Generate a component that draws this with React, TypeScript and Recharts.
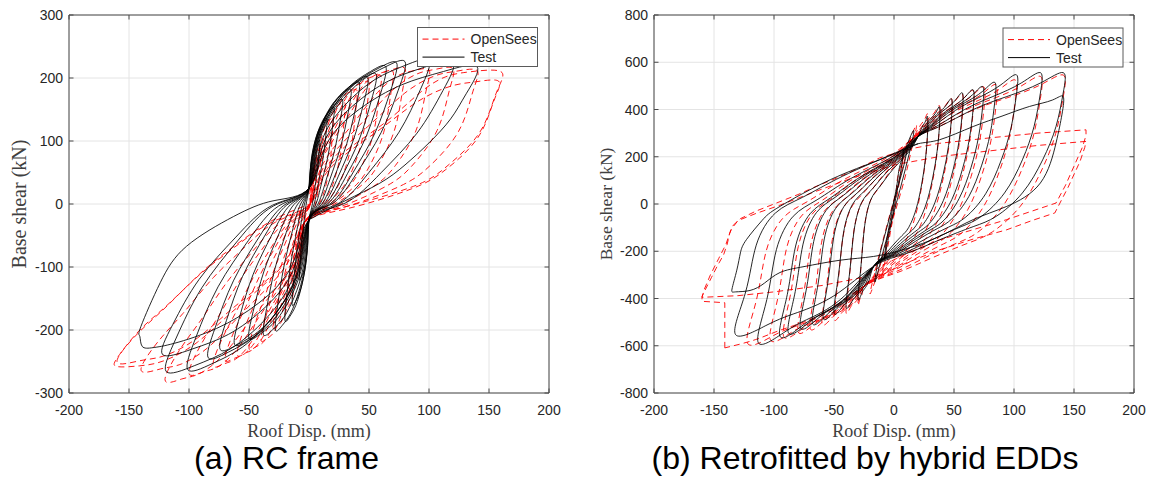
import React from 'react';
import { LineChart, Line, XAxis, YAxis, CartesianGrid } from 'recharts';

type Pt = [number, number];

// ---------- axis ticks ----------
const dispTicks = [-200, -150, -100, -50, 0, 50, 100, 150, 200];
const rcShearTicks = [-300, -200, -100, 0, 100, 200, 300];
const hyShearTicks = [-800, -600, -400, -200, 0, 200, 400, 600, 800];

// ---------- (a) RC frame : Test (black) loops [disp mm, shear kN] ----------
const rcTestLoops: Pt[][] = [
  [[0,25],[0.9,51],[2.7,74],[5,89],[7.2,97],[9,100],[8.4,80],[6.8,50],[4.5,22],[2.3,-5],[0,-25],[-0.8,-58],[-2.4,-87],[-4.4,-106],[-6.4,-116],[-8,-120],[-7.4,-96],[-6,-60],[-4,-26],[-2,4]],
  [[0,25],[1.5,63.5],[4.5,96.5],[8.3,118.5],[12,130.6],[15,135],[14,108],[11.3,67.5],[7.5,29.7],[3.8,-3.3],[0,-25],[-1.4,-72],[-4.2,-112.8],[-7.7,-139.8],[-11.2,-154.6],[-14,-160],[-13,-128],[-10.5,-80],[-7,-35.2],[-3.5,2]],
  [[0,25],[2.1,69.5],[6.3,107.6],[11.6,133],[16.8,147],[21,152],[19.5,121.6],[15.8,76],[10.5,33.4],[5.3,-2.4],[0,-25],[-2,-81],[-6,-129],[-11,-161],[-16,-178.6],[-20,-185],[-18.6,-148],[-15,-92.5],[-10,-40.7],[-5,0.8]],
  [[0,25],[2.8,74],[8.4,116],[15.4,144],[22.4,159.4],[28,165],[26,132],[21,82.5],[14,36.3],[7,-1.8],[0,-25],[-2.8,-86],[-8.4,-138.8],[-15.4,-173.8],[-22.4,-193],[-28,-200],[-26,-160],[-21,-100],[-14,-44],[-7,0]],
  [[0,25],[3.5,79.6],[10.5,126.4],[19.3,157.6],[28,174.8],[35,181],[32.6,144.8],[26.3,90.5],[17.5,39.8],[8.8,-1],[0,-25],[-3.8,-88.7],[-11.4,-143.3],[-20.9,-179.7],[-30.4,-199.7],[-38,-207],[-35.3,-165.6],[-28.5,-103.5],[-19,-45.5],[-9.5,-0.4]],
  [[0,25],[4.2,83.5],[12.6,133.6],[23.1,167],[33.6,185.3],[42,192],[39,153.6],[31.5,96],[21,42.2],[10.5,-0.4],[0,-25],[-5,-90.8],[-15,-147.2],[-27.5,-184.8],[-40,-205.5],[-50,-213],[-46.5,-170.4],[-37.5,-106.5],[-25,-46.9],[-12.5,-0.7]],
  [[0,25],[4.9,86.6],[14.7,139.4],[27,174.6],[39.2,194],[49,201],[45.6,160.8],[36.8,100.5],[24.5,44.2],[12.3,0],[0,-25],[-6.2,-94.3],[-18.6,-153.7],[-34.1,-193.3],[-49.6,-215],[-62,-223],[-57.7,-178.4],[-46.5,-111.5],[-31,-49],[-15.5,-1.2]],
  [[0,25],[5.6,88.4],[16.8,142.7],[30.8,178.9],[44.8,198.8],[56,206],[52,164.8],[42,103],[28,45.3],[14,0.3],[0,-25],[-7.4,-97.1],[-22.2,-158.9],[-40.7,-200.1],[-59.2,-222.8],[-74,-231],[-68.8,-184.8],[-55.5,-115.5],[-37,-50.8],[-18.5,-1.6]],
  [[0,25],[6.4,92.6],[19.2,150.5],[35.2,189],[51.2,210.3],[64,218],[59.5,174.4],[48,109],[32,48],[16,0.9],[0,-25],[-8.4,-101.7],[-25.2,-167.4],[-46.2,-211.2],[-67.2,-235.2],[-84,-244],[-78,-195.2],[-63,-122],[-42,-53.7],[-21,-2.2]],
  [[0,25],[7.3,94.7],[21.9,154.4],[40.2,194.2],[58.4,216],[73,224],[67.9,179.2],[54.8,112],[36.5,49.3],[18.3,1.2],[0,-25],[-10.1,-108.3],[-30.3,-179.7],[-55.6,-227.3],[-80.8,-253.5],[-101,-263],[-94,-210.4],[-75.8,-131.5],[-50.5,-57.9],[-25.3,-3.2]],
  [[0,25],[8,95.4],[24,155.7],[44,195.9],[64,218],[80,226],[74.4,180.8],[60,113],[40,49.7],[20,1.3],[0,-25],[-11.9,-109.4],[-35.7,-181.7],[-65.5,-229.9],[-95.2,-256.4],[-119,-266],[-110.7,-212.8],[-89.3,-133],[-59.5,-58.5],[-29.8,-3.3]],
  [[0,25],[10,96],[30,157],[55,197.6],[80,219.9],[100,228],[93,182.4],[75,114],[50,50.2],[25,1.4],[0,-25],[-12.2,-99.9],[-36.6,-164.1],[-67.1,-206.9],[-97.6,-230.4],[-122,-239],[-113.5,-191.2],[-91.5,-119.5],[-61,-52.6],[-30.5,-2]],
  [[0,25],[12,95],[36,155],[66,195],[96,217],[120,225],[111.6,180],[90,112.5],[60,49.5],[30,1.3],[0,-25],[-14,-96.4],[-42,-157.3],[-77,-197.5],[-112,-221],[-130,-228],[-139,-226],[-141,-210],[-140,-194],[-124,-125],[-102,-67],[-63,-20],[-30,5]],
  [[0,25],[14,92.6],[42,150.5],[77,189],[112,210.3],[140,218],[131,175],[118,135],[100,97],[80,62],[59,33],[30,5],[0,-25]],
];

// ---------- (a) RC frame : OpenSees (red dashed) loops ----------
const rcOpenSeesLoops: Pt[][] = [
  [[1,0],[1,25.7],[3.5,55.1],[5.7,78.9],[7.5,91.2],[8.8,94.5],[10,95],[9.8,77.5],[8.9,45],[7.2,16.9],[5.4,0],[2,-17.5],[-4,-30],[-4.6,-53],[-6.1,-79.3],[-7.4,-100.6],[-8.5,-111.6],[-9.3,-114.6],[-10,-115],[-8.9,-94.3],[-7.5,-75.9],[-5.7,-51.2],[-4,-31.9],[-2,-12.7]],
  [[1,0],[2,36.5],[7,78.3],[11.4,112],[15,129.6],[17.6,134.3],[20,135],[19.5,111.9],[17.8,69],[14.4,31.9],[10.8,9.6],[4,-13.5],[-4,-30],[-5.6,-66.5],[-9.6,-108.3],[-13.1,-142],[-16,-159.6],[-18.1,-164.3],[-20,-165],[-17.8,-135.3],[-15,-108.9],[-11.4,-73.4],[-8,-45.7],[-4,-18.2]],
  [[1,0],[3,43.2],[10.5,92.8],[17.1,132.8],[22.5,153.6],[26.4,159.2],[30,160],[29.3,133.4],[26.7,84],[21.6,41.3],[16.2,15.6],[6,-11],[-4,-30],[-6.6,-74.6],[-13.1,-125.7],[-18.8,-167],[-23.5,-188.4],[-26.9,-194.2],[-30,-195],[-26.7,-159.9],[-22.5,-128.7],[-17.1,-86.8],[-12,-54],[-6,-21.5]],
  [[1,0],[4,48.6],[14,104.4],[22.8,149.4],[30,172.8],[35.2,179.1],[40,180],[39,150.6],[35.6,96],[28.8,48.8],[21.6,20.4],[8,-9],[-4,-30],[-7.6,-80],[-16.6,-137.3],[-24.5,-183.6],[-31,-207.6],[-35.7,-214.1],[-40,-215],[-35.6,-176.3],[-30,-141.9],[-22.8,-95.7],[-16,-59.6],[-8,-23.7]],
  [[1,0],[5,52.1],[17.5,111.9],[28.5,160.2],[37.5,185.3],[44,192],[50,193],[48.8,161.8],[44.5,103.8],[36,53.6],[27,23.5],[10,-7.7],[-4,-30],[-8.6,-83.5],[-20.1,-144.8],[-30.2,-194.3],[-38.5,-220.1],[-44.5,-227],[-50,-228],[-44.5,-187],[-37.5,-150.5],[-28.5,-101.5],[-20,-63.2],[-10,-25.1]],
  [[1,0],[6,54.8],[21,117.7],[34.2,168.5],[45,194.9],[52.8,202],[60,203],[58.5,170.4],[53.4,109.8],[43.2,57.4],[32.4,25.9],[12,-6.7],[-4,-30],[-9.6,-86.2],[-23.6,-150.6],[-35.9,-202.6],[-46,-229.7],[-53.3,-237],[-60,-238],[-53.4,-195.2],[-45,-157.1],[-34.2,-105.9],[-24,-65.9],[-12,-26.2]],
  [[1,0],[7,56.7],[24.5,121.8],[39.9,174.3],[52.5,201.6],[61.6,209],[70,210],[68.3,176.4],[62.3,114],[50.4,60],[37.8,27.6],[14,-6],[-4,-30],[-10.6,-88.3],[-27.1,-155.3],[-41.6,-209.3],[-53.5,-237.4],[-62.1,-244.9],[-70,-246],[-62.3,-201.7],[-52.5,-162.4],[-39.9,-109.5],[-28,-68.1],[-14,-27.1]],
  [[1,0],[8,58],[28,124.7],[45.6,178.5],[60,206.4],[70.4,213.9],[80,215],[78,180.7],[71.2,117],[57.6,61.9],[43.2,28.8],[16,-5.5],[-4,-30],[-11.6,-90.8],[-30.6,-160.5],[-47.3,-216.8],[-61,-246],[-70.9,-253.9],[-80,-255],[-71.2,-209.1],[-60,-168.3],[-45.6,-113.5],[-32,-70.6],[-16,-28]],
  [[1,0],[10,57.5],[35,123.5],[57,176.8],[75,204.5],[88,211.9],[100,213],[97.5,179],[89,115.8],[72,61.1],[54,28.3],[20,-5.7],[-4,-30],[-13.6,-94.3],[-37.6,-168],[-58.7,-227.5],[-76,-258.5],[-88.5,-266.8],[-100,-268],[-89,-219.8],[-75,-176.9],[-57,-119.3],[-40,-74.2],[-20,-29.5]],
  [[1,0],[12,58],[42,124.7],[68.4,178.5],[90,206.4],[105.6,213.9],[120,215],[117,180.7],[106.8,117],[86.4,61.9],[64.8,28.8],[24,-5.5],[-4,-30],[-15.6,-97.2],[-44.6,-174.4],[-70.1,-236.7],[-91,-269],[-106.1,-277.8],[-120,-279],[-106.8,-228.8],[-90,-184.1],[-68.4,-124.2],[-48,-77.3],[-24,-30.7]],
  [[1,0],[14,57.2],[49,123],[79.8,176],[105,203.5],[123.2,210.9],[140,212],[136.5,178.1],[124.6,115.2],[100.8,60.8],[75.6,28.1],[28,-5.8],[-4,-30],[-17.6,-92.9],[-51.6,-165.1],[-81.5,-223.4],[-106,-253.7],[-123.7,-261.8],[-140,-263],[-124.6,-215.7],[-105,-173.6],[-79.8,-117],[-56,-72.9],[-28,-28.9]],
  [[1,0],[17,60],[59,123],[92,176],[114,202],[135,210],[160,210],[156,176],[142,113],[115,60],[87,28],[31,-4],[-4,-30],[-19.6,-91.6],[-58.6,-162.2],[-92.9,-219.2],[-121,-248.9],[-141.3,-256.9],[-160,-258],[-159,-242],[-141,-200],[-119,-162],[-91,-112],[-63,-70],[-30,-28]],
  [[1,0],[15.8,52.7],[55.3,113.1],[90,161.9],[118.5,187.2],[139,194],[158,195],[154,163.5],[140.6,105],[113.8,54.4],[85.3,24],[31.6,-7.5],[-4,-30],[-19.6,-89.4],[-58.6,-157.6],[-92.9,-212.6],[-121,-241.2],[-141.3,-248.9],[-160,-250],[-142.4,-205],[-120,-165],[-91.2,-111.3],[-64,-69.3],[-32,-27.5],[1,0]],
];

// ---------- (b) Hybrid EDDs : Test (black) loops ----------
const hyTestLoops: Pt[][] = [
  [[8,230],[6,150],[2,40],[-3,-100],[-6,-180],[-8,-230],[-6,-150],[-2,-40],[3,100],[6,180]],
  [[16,310],[13,220],[6,80],[-2,-70],[-9,-200],[-13,-280],[-16,-330],[-13,-240],[-6,-100],[2,50],[9,180],[13,260]],
  [[20,285],[21.2,298.5],[23,321],[24.9,338.3],[26.7,356.2],[28,370],[28,303.4],[26.3,193.7],[23.1,84.7],[18.3,-23.7],[12.1,-100.4],[6.6,-134],[-1.3,-177.1],[-9.3,-222.2],[-17,-264],[-20.8,-323.2],[-24.6,-358.9],[-27.2,-381.9],[-30,-400],[-27.4,-256.2],[-24.4,-90.4],[-19.1,20.6],[-11.6,75.4],[-0.7,148],[12.5,222]],
  [[20,285],[22.7,304.9],[26.8,338],[31,363.4],[35.2,389.8],[38,410],[38,339.2],[35.9,222.6],[32.1,106.7],[26.2,-8.6],[18.5,-90.1],[11.9,-125.8],[2.1,-171.7],[-7.6,-219.5],[-17,-264],[-23.7,-338.4],[-30.4,-383.4],[-35,-412.3],[-40,-435],[-36.8,-283.8],[-33.2,-109.6],[-26.9,7.1],[-17.9,64.7],[-4.8,141],[11,218.8]],
  [[20,285],[24.2,310.4],[30.6,352.8],[37.1,385.3],[43.6,419.1],[48,445],[48,370.6],[45.5,247.9],[41,126],[34,4.7],[25,-81.1],[17.1,-118.7],[5.6,-166.9],[-5.9,-217.2],[-17,-264],[-26.6,-349.3],[-36.2,-400.8],[-42.8,-433.9],[-50,-460],[-46.3,-303.6],[-42.1,-123.3],[-34.7,-2.6],[-24.2,57],[-9,136],[9.5,216.5]],
  [[20,285],[25.5,314.4],[34.1,363.4],[42.6,401],[51.2,440],[57,470],[57,393],[54.2,265.9],[49,139.7],[41.1,14.2],[30.8,-74.6],[21.9,-113.5],[8.8,-163.4],[-4.3,-215.6],[-17,-264],[-29.2,-359.3],[-41.5,-416.9],[-49.8,-453.9],[-59,-483],[-54.8,-321.7],[-50.1,-135.9],[-41.8,-11.4],[-29.9,50],[-12.7,131.4],[8.2,214.3]],
  [[20,285],[26.9,316.5],[37.5,369],[48.2,409.1],[58.8,450.9],[66,483],[66,404.6],[62.8,275.3],[57,146.9],[48.2,19.1],[36.6,-71.3],[26.6,-110.9],[11.9,-161.7],[-2.8,-214.7],[-17,-264],[-31.8,-368.8],[-46.7,-432.2],[-56.8,-473],[-68,-505],[-63.3,-339.1],[-58.1,-147.9],[-48.8,-20],[-35.6,43.3],[-16.4,127],[6.8,212.3]],
  [[20,285],[28,318.7],[40.5,374.9],[53,417.9],[65.5,462.7],[74,497],[74,417.1],[70.5,285.4],[64.2,154.6],[54.4,24.4],[41.8,-67.7],[30.8,-108],[14.7,-159.7],[-1.4,-213.8],[-17,-264],[-34.7,-377.1],[-52.6,-445.5],[-64.6,-489.4],[-78,-524],[-72.8,-354.1],[-66.9,-158.3],[-56.6,-27.3],[-41.9,37.4],[-20.6,123.2],[5.3,210.6]],
  [[20,285],[29.5,321.6],[44.3,382.5],[59.2,429.2],[74,477.7],[84,515],[84,433.2],[80.2,298.4],[73.1,164.5],[62.3,31.2],[48.2,-63],[36,-104.3],[18.1,-157.3],[0.3,-212.6],[-17,-264],[-37.6,-386.2],[-58.4,-460.1],[-72.5,-507.6],[-88,-545],[-82.3,-370.7],[-75.8,-169.8],[-64.5,-35.4],[-48.3,31],[-24.7,119],[3.8,208.6]],
  [[20,285],[32.2,326.7],[51.2,396.1],[70.2,449.3],[89.1,504.6],[102,547],[102,461.8],[97.5,321.5],[89.1,182.1],[76.4,43.4],[59.9,-54.8],[45.5,-97.7],[24.4,-152.9],[3.3,-210.5],[-17,-264],[-39.6,-392.8],[-62.5,-470.6],[-77.9,-520.6],[-95,-560],[-88.9,-382.6],[-82,-178.1],[-69.9,-41.2],[-52.7,26.4],[-27.6,116],[2.8,207.3]],
  [[20,285],[35.2,328.1],[58.8,399.9],[82.4,454.9],[106,512.1],[122,556],[122,469.9],[116.7,328],[107,187],[92.1,46.8],[72.8,-52.4],[56,-95.9],[31.4,-151.7],[6.8,-209.9],[-17,-264],[-44.8,-405],[-73,-490.2],[-92,-544.9],[-113,-588],[-106,-404.7],[-98,-193.4],[-84,-52],[-64.1,17.9],[-35.1,110.4],[0,204.7]],
  [[20,285],[38,328.1],[66,399.9],[94.1,454.9],[122,512.1],[141,556],[141,469.9],[135,328],[123.9,187],[107,46.8],[85.1,-52.4],[66,-95.9],[38,-151.7],[10,-209.9],[-17,-264],[-50.4,-389.7],[-84,-465.7],[-106.8,-514.6],[-132,-553],[-123.9,-377],[-114.8,-174.2],[-98.9,-38.5],[-76.1,28.6],[-42.9,117.4],[-2.8,207.9]],
  [[20,255],[38,272],[66,328],[90,372],[113,413],[132,440],[141,455],[140,380],[135,258],[122,89],[94,-10],[66,-66],[38,-137],[10,-190],[-17,-222],[-45,-238],[-75,-265],[-95,-290],[-108,-335],[-120,-366],[-132,-372],[-135,-360],[-131,-280],[-128,-207],[-123,-151],[-110,-70],[-95,-10],[-53,103],[-12,187],[20,255]],
];

// ---------- (b) Hybrid EDDs : OpenSees (red dashed) loops ----------
const hyOpenSeesLoops: Pt[][] = [
  [[8,220],[6,140],[2,20],[-3,-120],[-7,-230],[-10,-300],[-7,-200],[-3,-80],[2,60],[5,150]],
  [[18,330],[15,240],[8,90],[-3,-100],[-11,-250],[-16,-330],[-20,-380],[-16,-290],[-9,-150],[0,20],[8,170],[13,260]],
  [[16,279],[17.8,295.1],[20.6,321.8],[23.3,342.3],[26.1,363.6],[28,380],[28,303.6],[26,177.6],[22.3,52.4],[16.6,-72.1],[9.2,-160.2],[2.8,-198.8],[-6.6,-248.3],[-15.9,-299.9],[-25,-348],[-26.5,-379.3],[-27.9,-398.3],[-28.9,-410.4],[-30,-420],[-27.6,-273.2],[-24.8,-104.1],[-20,9.2],[-13.1,65.1],[-3,139.2],[9.1,214.7]],
  [[16,279],[19.3,300.6],[24.4,336.7],[29.5,364.3],[34.5,393],[38,415],[38,334.9],[35.6,202.9],[31.2,71.7],[24.5,-58.8],[15.7,-151.1],[8.1,-191.6],[-3.1,-243.5],[-14.2,-297.6],[-25,-348],[-29.4,-394.5],[-33.7,-422.7],[-36.7,-440.8],[-40,-455],[-37,-300.9],[-33.7,-123.2],[-27.8,-4.3],[-19.4,54.4],[-7.2,132.2],[7.6,211.5]],
  [[16,279],[20.8,305.4],[28.2,349.4],[35.6,383.1],[43,418.1],[48,445],[48,361.7],[45.2,224.5],[40.1,88.2],[32.3,-47.5],[22.2,-143.4],[13.3,-185.4],[0.4,-239.4],[-12.5,-295.7],[-25,-348],[-32.3,-407.6],[-39.6,-443.6],[-44.5,-466.8],[-50,-485],[-46.5,-324.6],[-42.5,-139.7],[-35.6,-15.9],[-25.7,45.2],[-11.3,126.2],[6.1,208.7]],
  [[16,279],[22.1,308.6],[31.6,357.9],[41.1,395.6],[50.6,434.9],[57,465],[57,379.6],[53.9,239],[48.1,99.2],[39.4,-39.9],[28,-138.2],[18.1,-181.3],[3.5,-236.6],[-11,-294.3],[-25,-348],[-35.2,-416.3],[-45.4,-457.6],[-52.3,-484.1],[-60,-505],[-56,-340.4],[-51.4,-150.6],[-43.4,-23.6],[-32,39.1],[-15.5,122.2],[4.6,206.9]],
  [[16,279],[23.5,311],[35,364.2],[46.6,405],[58.2,447.4],[66,480],[66,393.1],[62.5,249.8],[56.2,107.4],[46.4,-34.2],[33.8,-134.4],[22.8,-178.3],[6.7,-234.6],[-9.4,-293.4],[-25,-348],[-38.1,-425],[-51.2,-471.5],[-60.1,-501.5],[-70,-525],[-65.4,-356.2],[-60.3,-161.6],[-51.3,-31.3],[-38.4,33],[-19.6,118.2],[3.1,205]],
  [[16,279],[24.8,313.3],[38.4,370.6],[52.1,414.4],[65.7,461],[75,495],[75,406.5],[71.2,260.6],[64.2,115.7],[53.5,-28.5],[39.6,-130.5],[27.5,-175.2],[9.8,-232.5],[-7.9,-292.4],[-25,-348],[-41,-431.5],[-57.1,-482],[-68,-514.5],[-80,-540],[-74.9,-368],[-69.2,-169.8],[-59.1,-37.1],[-44.7,28.4],[-23.7,115.2],[1.6,203.7]],
  [[16,279],[26.3,314.9],[42.2,374.8],[58.2,420.7],[74.2,468.4],[85,505],[85,415.4],[80.8,267.9],[73.1,121.2],[61.4,-24.7],[46.1,-127.9],[32.8,-173.1],[13.3,-231.1],[-6.2,-291.7],[-25,-348],[-44.4,-440.2],[-64.1,-496],[-77.3,-531.8],[-92,-560],[-86.3,-383.8],[-79.8,-180.8],[-68.5,-44.9],[-52.3,22.3],[-28.7,111.2],[-0.2,201.8]],
  [[16,279],[28.7,318.1],[48.3,383.3],[68,433.2],[87.7,485.2],[101,525],[101,433.3],[96.2,282.3],[87.4,132.2],[73.9,-17.1],[56.4,-122.8],[41.2,-169],[18.8,-228.4],[-3.5,-290.4],[-25,-348],[-47.6,-446.7],[-70.5,-506.4],[-85.9,-544.8],[-103,-575],[-96.7,-395.7],[-89.6,-189],[-77.1,-50.6],[-59.2,17.7],[-33.3,108.2],[-1.9,200.4]],
  [[16,279],[31.8,320.5],[56.3,389.7],[80.9,442.6],[105.4,497.7],[122,540],[122,446.8],[116.4,293.1],[106.1,140.4],[90.4,-11.4],[70,-118.9],[52.2,-166],[26.2,-226.3],[0.1,-289.4],[-25,-348],[-53.1,-453.3],[-81.6,-516.9],[-100.8,-557.8],[-122,-590],[-114.7,-407.5],[-106.4,-197.2],[-91.9,-56.4],[-71.2,13.1],[-41.1,105.2],[-4.7,199.1]],
  [[16,279],[34.6,321.5],[63.5,392.2],[92.5,446.4],[121.4,502.7],[141,546],[141,452.1],[134.7,297.5],[123.1,143.7],[105.3,-9.2],[82.2,-117.3],[62.2,-164.7],[32.8,-225.5],[3.4,-289],[-25,-348],[-58.6,-461.5],[-92.6,-530.2],[-115.6,-574.3],[-141,-609]],
];

// final OpenSees excursions to +/-160 mm (straight segments)
const hyOpenSeesTail: Pt[] = [
  [-141,-609],[-141,-520],[-141,-418],[-150,-415],[-160,-412],[-160,-391],[-157,-360],[-152,-310],[-147,-260],[-142,-215],[-139,-170],[-137,-125],[-134,-90],[-128,-62],[-115,-30],[-95,10],[-80,40],[-67,70],[-50,105],[-30,150],[-12,195],[10,230],[38,257],[80,280],[120,300],[160,314],[160,290],[157,240],[150,160],[143,80],[135,4],[115,-30],[94,-66],[65,-110],[38,-152],[15,-200],[-10,-260],[-25,-310],[-60,-345],[-100,-372],[-130,-388],[-160,-395],[-158,-360],[-153,-300],[-146,-230],[-140,-170],[-136,-110],[-130,-70],[-115,-40],[-95,-5],[-67,50],[-35,110],[0,165],[38,201],[80,225],[120,248],[160,265],[159,240],[155,180],[145,70],[134,-38],[115,-70],[94,-109],[65,-150],[38,-194],[10,-250],[-10,-300],[-25,-348],
];

const toRows = (pts: Pt[]) => pts.map(([x, y]) => ({ x, y }));
const rcTestData = toRows(rcTestLoops.flat());
const rcOpenSeesData = toRows(rcOpenSeesLoops.flat());
const hyTestData = toRows(hyTestLoops.flat());
const hyOpenSeesData = toRows(hyOpenSeesLoops.flat());
const hyOpenSeesTailData = toRows(hyOpenSeesTail);

// ---------- styling ----------
const SANS = '"Liberation Sans", Arial, Helvetica, sans-serif';
const SERIF = '"Liberation Serif", "Times New Roman", Times, serif';
const AXIS = '#4a4a4a';
const TICKTXT = '#262626';
const TL = 4.5;
const RED = '#ff0000';
const DASH = '6 4';

const BottomTick = (p: any) => (
  <g>
    <line x1={p.x} y1={p.y} x2={p.x} y2={p.y - TL} stroke={AXIS} strokeWidth={1} />
    <text x={p.x} y={p.y + 22} textAnchor="middle" fontSize={14} fontFamily={SANS} fill={TICKTXT}>
      {p.payload.value}
    </text>
  </g>
);
const TopTick = (p: any) => (
  <line x1={p.x} y1={p.y} x2={p.x} y2={p.y + TL} stroke={AXIS} strokeWidth={1} />
);
const LeftTick = (p: any) => (
  <g>
    <line x1={p.x} y1={p.y} x2={p.x + TL} y2={p.y} stroke={AXIS} strokeWidth={1} />
    <text x={p.x - 6} y={p.y + 5} textAnchor="end" fontSize={14} fontFamily={SANS} fill={TICKTXT}>
      {p.payload.value}
    </text>
  </g>
);
const RightTick = (p: any) => (
  <line x1={p.x} y1={p.y} x2={p.x - TL} y2={p.y} stroke={AXIS} strokeWidth={1} />
);

type PanelProps = {
  width: number;
  marginLeft: number;
  marginRight: number;
  yDomain: [number, number];
  yTicks: number[];
  red: { x: number; y: number }[];
  redTail?: { x: number; y: number }[];
  black: { x: number; y: number }[];
};

const H = 479;

function Panel({ width, marginLeft, marginRight, yDomain, yTicks, red, redTail, black }: PanelProps) {
  return (
    <LineChart
      width={width}
      height={H}
      margin={{ top: 14, right: marginRight, bottom: 56, left: marginLeft }}
    >
      <CartesianGrid stroke="#e4e4e4" strokeWidth={1} />
      <XAxis
        type="number"
        dataKey="x"
        domain={[-200, 200]}
        ticks={dispTicks}
        interval={0}
        allowDataOverflow
        height={30}
        tickSize={0}
        tickMargin={0}
        tickLine={false}
        stroke={AXIS}
        tick={BottomTick}
      />
      <XAxis
        xAxisId="top"
        orientation="top"
        type="number"
        dataKey="x"
        domain={[-200, 200]}
        ticks={dispTicks}
        interval={0}
        allowDataOverflow
        height={1}
        tickSize={0}
        tickMargin={0}
        tickLine={false}
        stroke={AXIS}
        tick={TopTick}
      />
      <YAxis
        type="number"
        domain={yDomain}
        ticks={yTicks}
        interval={0}
        allowDataOverflow
        width={40}
        tickSize={0}
        tickMargin={0}
        tickLine={false}
        stroke={AXIS}
        tick={LeftTick}
      />
      <YAxis
        yAxisId="right"
        orientation="right"
        type="number"
        domain={yDomain}
        ticks={yTicks}
        interval={0}
        allowDataOverflow
        width={1}
        tickSize={0}
        tickMargin={0}
        tickLine={false}
        stroke={AXIS}
        tick={RightTick}
      />
      <Line
        data={red}
        dataKey="y"
        name="OpenSees"
        type="natural"
        stroke={RED}
        strokeWidth={0.9}
        strokeDasharray={DASH}
        dot={false}
        activeDot={false}
        isAnimationActive={false}
      />
      {redTail ? (
        <Line
          data={redTail}
          dataKey="y"
          name="OpenSees tail"
          type="linear"
          stroke={RED}
          strokeWidth={0.9}
          strokeDasharray={DASH}
          dot={false}
          activeDot={false}
          isAnimationActive={false}
          legendType="none"
        />
      ) : null}
      <Line
        data={black}
        dataKey="y"
        name="Test"
        type="natural"
        stroke="#000000"
        strokeWidth={0.85}
        dot={false}
        activeDot={false}
        isAnimationActive={false}
      />
    </LineChart>
  );
}

function LegendBox({ x, y }: { x: number; y: number }) {
  return (
    <g>
      <rect x={x} y={y} width={120} height={39} fill="#ffffff" stroke="#5a5a5a" strokeWidth={1} />
      <line x1={x + 5} x2={x + 47} y1={y + 11.6} y2={y + 11.6} stroke={RED} strokeWidth={1} strokeDasharray={DASH} />
      <text x={x + 53} y={y + 16.6} fontSize={14} fontFamily={SANS} fill={TICKTXT}>OpenSees</text>
      <line x1={x + 5} x2={x + 47} y1={y + 29.6} y2={y + 29.6} stroke="#000" strokeWidth={1} />
      <text x={x + 53} y={y + 34.6} fontSize={14} fontFamily={SANS} fill={TICKTXT}>Test</text>
    </g>
  );
}

export default function App() {
  return (
    <div style={{ position: 'absolute', left: 0, top: 0, width: 1153, height: 479, background: '#fff', overflow: 'hidden' }}>
      <div style={{ position: 'absolute', left: 0, top: 0 }}>
        <Panel
          width={570}
          marginLeft={29}
          marginRight={20}
          yDomain={[-300, 300]}
          yTicks={rcShearTicks}
          red={rcOpenSeesData}
          black={rcTestData}
        />
      </div>
      <div style={{ position: 'absolute', left: 580, top: 0 }}>
        <Panel
          width={573}
          marginLeft={34}
          marginRight={18}
          yDomain={[-800, 800]}
          yTicks={hyShearTicks}
          red={hyOpenSeesData}
          redTail={hyOpenSeesTailData}
          black={hyTestData}
        />
      </div>
      <svg
        width={1153}
        height={479}
        style={{ position: 'absolute', left: 0, top: 0, pointerEvents: 'none' }}
      >
        <LegendBox x={417.5} y={27.5} />
        <LegendBox x={1003} y={28} />
        <text x={309} y={437} textAnchor="middle" fontSize={18} fontFamily={SERIF} fill="#404040">Roof Disp. (mm)</text>
        <text x={894} y={437} textAnchor="middle" fontSize={18} fontFamily={SERIF} fill="#404040">Roof Disp. (mm)</text>
        <text transform="translate(25.5,204) rotate(-90)" textAnchor="middle" fontSize={20} fontFamily={SERIF} fill="#404040">Base shear (kN)</text>
        <text transform="translate(612,204) rotate(-90)" textAnchor="middle" fontSize={17.5} fontFamily={SERIF} fill="#404040">Base shear (kN)</text>
        <text x={286.5} y={469} textAnchor="middle" fontSize={32} fontFamily={SANS} fill="#000">(a) RC frame</text>
        <text x={865} y={469} textAnchor="middle" fontSize={32} fontFamily={SANS} fill="#000">(b) Retrofitted by hybrid EDDs</text>
      </svg>
    </div>
  );
}
